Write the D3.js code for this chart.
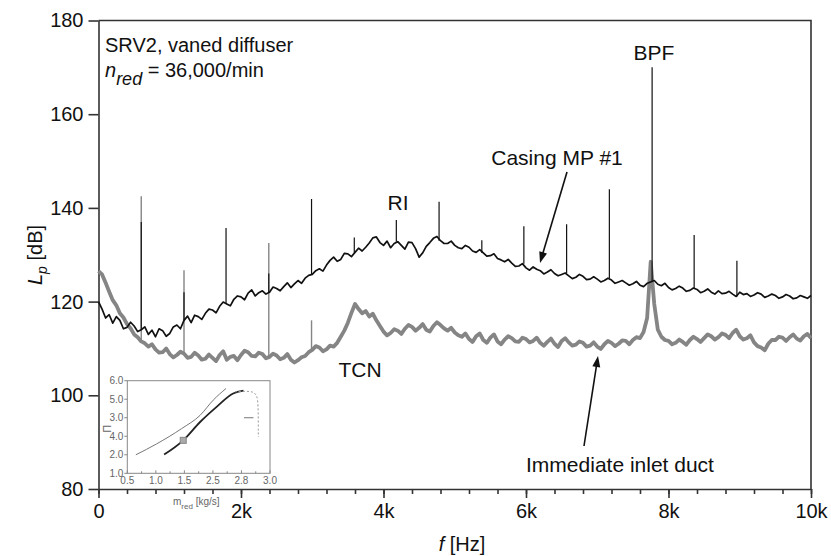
<!DOCTYPE html>
<html>
<head>
<meta charset="utf-8">
<script src="https://cdn.jsdelivr.net/npm/d3@7/dist/d3.min.js"></script>
<style>
  body { margin: 0; background: #fff; }
  svg { font-family: "Liberation Sans", Arial, sans-serif; }
</style>
</head>
<body>
<svg id="chart" width="831" height="556"></svg>
<script>
// spectra, one value every 50 Hz (f in kHz), level in dB
const freqStep = 0.05;
const casingLevels = [
  120, 118.4, 116.5, 117.2, 115.4, 116.8, 116, 114.2, 114.5, 115.6, 114.8, 113.6, 114, 114.6, 113, 113.9, 112.5, 114.2, 113.8, 112.6,
  113.2, 114.6, 115, 114.2, 116, 116.9, 115.5, 117.1, 116.8, 116.2, 117.5, 118.4, 118.2, 117.6, 119, 119.9, 119.5, 119.1, 120.5, 121.2,
  121, 120.4, 121.8, 122.5, 121.2, 121.9, 122.3, 121.6, 122, 123.1, 122.8, 122.3, 123.2, 124, 123, 123.8, 124.5, 123.9, 125, 125.6,
  125.8, 126.6, 127, 126.5, 127.8, 128.8, 129.5, 128.6, 129, 130.3, 130.2, 129.6, 130.5, 131.4, 130.8, 131.6, 132.5, 133.6, 133.8, 132.6,
  132, 132.9, 131.5, 132.4, 132.8, 132, 131.2, 132.7, 132.6, 131.3, 129.5, 130.4, 131.8, 132.6, 133.5, 133.9, 133, 132.4, 132.4, 132.9,
  132, 131.5, 131.3, 132, 131.6, 130.8, 130.5, 131.1, 130.4, 129.7, 129.8, 130.2, 129.2, 128.9, 128.5, 129, 128.2, 127.5, 127.6, 128.1,
  127.2, 126.7, 127.4, 126.9, 126.6, 125.9, 126.3, 126.8, 126, 125.5, 125.8, 126.1, 125.5, 124.9, 125.2, 125.8, 125.4, 124.7, 124.8, 125.3,
  124.8, 124.2, 124.5, 125, 124.6, 123.9, 124.2, 124.5, 124, 123.5, 123.8, 124.3, 123.5, 123.2, 123.9, 124.2, 124.5, 123.7, 123.4, 123.9,
  123, 122.5, 122.8, 123.3, 122.9, 122.2, 122.4, 122.9, 122.6, 121.9, 122.2, 122.7, 122, 121.6, 122.3, 121.7, 121.8, 122.2, 121.6, 121.1,
  122, 121.5, 121.7, 121.1, 121.4, 121.9, 121.6, 120.9, 121.2, 121.6, 121.3, 120.7, 121, 121.5, 121.2, 120.6, 120.8, 121.3, 121, 120.7,
  121.3
];
const inletLevels = [
  126.5, 125.8, 124, 122.1, 120.3, 119.2, 117.5, 116.6, 115.2, 114.3, 113, 112.4, 111.5, 111.1, 110.4, 110.9, 109.8, 109.1, 109.2, 110,
  108.8, 108.1, 108.6, 109.3, 108.9, 108, 108.2, 109.1, 108.5, 107.6, 107.8, 108.7, 108, 107.3, 108.6, 109.4, 107.6, 108.2, 108.4, 107.5,
  108.6, 109.5, 109.2, 108.4, 108.3, 109.1, 108.8, 107.9, 108.2, 108.9, 108.5, 107.7, 108, 108.8, 107.6, 107, 107.5, 108.1, 108.4, 109.2,
  109.7, 110.5, 110.2, 109.4, 109.8, 110.6, 110.4, 111.2, 112.5, 113.8, 115.5, 117.6, 119.5, 118.4, 117.5, 118, 116.8, 117.4, 116, 114.8,
  113.6, 112.8, 113.3, 114.1, 113.8, 113.1, 114.2, 115, 114.6, 113.8, 114.4, 115.2, 114, 113.6, 114.8, 115.6, 115, 114.3, 113.8, 114.4,
  113.4, 112.8, 112.5, 113.2, 112, 111.4, 112.6, 113.2, 111.8, 111.2, 112.3, 113, 111.5, 110.9, 111.9, 112.6, 112.2, 111.5, 111.4, 112.3,
  112, 111.3, 111.6, 112.3, 111.2, 110.6, 111.4, 112.1, 111, 110.3, 111.6, 112.2, 111.3, 110.6, 110.8, 111.5, 111.2, 110.4, 110.6, 111.3,
  110.4, 109.9, 110.9, 111.6, 111.2, 110.5, 111, 111.7, 111.6, 110.9, 111.8, 112.4, 112.2, 113.5, 116.5, 128.5, 119.5, 114, 112.5, 111.8,
  111.6, 110.9, 111.2, 111.9, 111.4, 110.8, 111.8, 112.5, 112, 111.4, 112.2, 113, 112.6, 111.9, 112.4, 113.2, 112.9, 112.2, 113.3, 114,
  112.6, 111.9, 112.2, 112.8, 111.3, 110.5, 110.2, 109.6, 111, 111.8, 111.8, 112.5, 112.3, 111.6, 112.4, 113, 112.1, 111.7, 112.6, 113.1,
  112.2
];
// shaft-order tones [f kHz, peak dB]
const casingTones = [
  [0.6, 137], [1.2, 122], [1.79, 135.7], [2.39, 126], [2.99, 141.9],
  [3.59, 133.7], [4.18, 137.4], [4.78, 141.3], [5.38, 133.1], [5.97, 136.1],
  [6.57, 136.5], [7.17, 144], [7.77, 170], [8.36, 134.2], [8.96, 128.7]
];
const inletTones = [[0.6, 142.5], [1.2, 126.7], [2.39, 132.5], [2.99, 116]];

const yTicks = [80, 100, 120, 140, 160, 180];
const xTicks = [0, 2, 4, 6, 8, 10];
const xTickLabels = ["0", "2k", "4k", "6k", "8k", "10k"];

// inset compressor map, in label-index units as printed
const insetXLabels = ["0.5", "1.0", "1.5", "2.5", "2.8", "3.0"];
const insetYLabels = ["1.0", "2.0", "4.0", "3.0", "5.0", "6.0"];
const mapUpperLine = [[0.30, 1.0], [1.03, 1.59], [1.90, 2.41], [2.55, 3.13], [3.01, 3.95], [3.46, 4.58]];
const mapLowerLine = [[1.29, 1.01], [1.96, 1.78], [2.55, 2.77], [3.13, 3.59], [3.71, 4.31], [4.07, 4.46]];
const mapDashed = [[3.77, 4.40], [4.18, 4.44], [4.42, 4.40], [4.53, 4.22], [4.59, 3.86], [4.59, 1.96]];
const mapTick = [[4.09, 3.0], [4.42, 3.0]];
const mapPoint = [1.96, 1.78];

const svg = d3.select("#chart");
const x = d3.scaleLinear().domain([0, 10]).range([98.5, 811]);
const y = d3.scaleLinear().domain([80, 180]).range([489, 20.5]);

// frame
svg.append("path")
  .attr("d", `M${x(0)},${y(180)}H${x(10)}V${y(80)}`)
  .attr("fill", "none").attr("stroke", "#333").attr("stroke-width", 1.6);

// axes
svg.append("g").attr("transform", `translate(${x(0)},0)`)
  .call(d3.axisLeft(y).tickValues(yTicks).tickSize(10).tickSizeOuter(0).tickPadding(5));
svg.append("g").attr("transform", `translate(0,${y(80)})`)
  .call(d3.axisBottom(x).tickValues(xTicks).tickSize(9).tickSizeOuter(0).tickPadding(6)
    .tickFormat((d, i) => xTickLabels[i]));
svg.append("g").attr("transform", `translate(0,${y(80)})`)
  .call(d3.axisBottom(x).tickValues(d3.range(0, 10.001, 0.4)).tickSize(5).tickFormat(""))
  .call(g => g.select(".domain").remove());
svg.selectAll(".domain, .tick line").attr("stroke", "#333").attr("stroke-width", 1.6);
svg.selectAll(".tick text").attr("fill", "#111").attr("font-size", 20);

const line = d3.line().x((d, i) => x(i * freqStep)).y(d => y(d));
const baseAt = (levels, f) => levels[Math.round(f / freqStep)];

function drawSpectrum(levels, tones, color, width, toneWidth) {
  const g = svg.append("g");
  g.append("path").datum(levels).attr("d", line)
    .attr("fill", "none").attr("stroke", color)
    .attr("stroke-width", width).attr("stroke-linejoin", "round");
  g.selectAll("line").data(tones).join("line")
    .attr("x1", d => x(d[0])).attr("x2", d => x(d[0]))
    .attr("y1", d => y(baseAt(levels, d[0]))).attr("y2", d => y(d[1]))
    .attr("stroke", color).attr("stroke-width", toneWidth);
}
drawSpectrum(inletLevels, inletTones, "#858585", 3.8, 1.4);
drawSpectrum(casingLevels, casingTones, "#111", 1.7, 1.2);

// axis titles
svg.append("text").attr("transform", "translate(42,255) rotate(-90)")
  .attr("text-anchor", "middle").attr("font-size", 20).attr("fill", "#111")
  .call(t => {
    t.append("tspan").attr("font-style", "italic").text("L");
    t.append("tspan").attr("font-style", "italic").attr("font-size", 14).attr("dy", 5).text("p");
    t.append("tspan").attr("dy", -5).text(" [dB]");
  });
svg.append("text").attr("x", 462).attr("y", 551)
  .attr("text-anchor", "middle").attr("font-size", 20).attr("fill", "#111")
  .call(t => {
    t.append("tspan").attr("font-style", "italic").text("f");
    t.append("tspan").text(" [Hz]");
  });

// annotations
const note = (tx, ty, s, anchor) => svg.append("text").attr("x", tx).attr("y", ty)
  .attr("font-size", 21).attr("fill", "#111").attr("text-anchor", anchor || "start").text(s);
note(105, 52, "SRV2, vaned diffuser").attr("font-size", 20);
svg.append("text").attr("x", 105).attr("y", 77).attr("font-size", 20).attr("fill", "#111")
  .call(t => {
    t.append("tspan").attr("font-style", "italic").text("n");
    t.append("tspan").attr("font-style", "italic").attr("font-size", 18).attr("dy", 8).text("red");
    t.append("tspan").attr("dy", -8).text(" = 36,000/min");
  });
note(654, 60, "BPF", "middle");
note(557, 165, "Casing MP #1", "middle");
note(398, 210, "RI", "middle");
note(360, 377, "TCN", "middle");
note(620, 472, "Immediate inlet duct", "middle");

function arrow(x1, y1, x2, y2) {
  const a = Math.atan2(y2 - y1, x2 - x1), len = 11, w = 4;
  svg.append("line").attr("x1", x1).attr("y1", y1)
    .attr("x2", x2 - Math.cos(a) * len * 0.8).attr("y2", y2 - Math.sin(a) * len * 0.8)
    .attr("stroke", "#111").attr("stroke-width", 1.6);
  const bx = x2 - Math.cos(a) * len, by = y2 - Math.sin(a) * len;
  svg.append("polygon").attr("fill", "#111").attr("points", [
    [x2, y2],
    [bx + Math.sin(a) * w, by - Math.cos(a) * w],
    [bx - Math.sin(a) * w, by + Math.cos(a) * w]
  ].map(p => p.join(",")).join(" "));
}
arrow(567, 172, 540, 263);
arrow(584, 446, 598, 356);

// inset compressor map
const ix = d3.scaleLinear().domain([0, 5]).range([127.3, 270]);
const iy = d3.scaleLinear().domain([0, 5]).range([473.3, 380.7]);
const inset = svg.append("g");
inset.append("rect").attr("x", ix(0)).attr("y", iy(5))
  .attr("width", ix(5) - ix(0)).attr("height", iy(0) - iy(5))
  .attr("fill", "#fff").attr("stroke", "#888").attr("stroke-width", 1);
inset.selectAll(".iyl").data(insetYLabels).join("text")
  .attr("x", ix(0) - 4).attr("y", (d, i) => iy(i) + 3.5)
  .attr("text-anchor", "end").attr("font-size", 10).attr("fill", "#666").text(d => d);
inset.selectAll(".iyt").data(insetYLabels).join("line")
  .attr("x1", ix(0) - 3).attr("x2", ix(0)).attr("y1", (d, i) => iy(i)).attr("y2", (d, i) => iy(i))
  .attr("stroke", "#888");
inset.selectAll(".ixl").data(insetXLabels).join("text")
  .attr("x", (d, i) => ix(i)).attr("y", iy(0) + 11)
  .attr("text-anchor", "middle").attr("font-size", 10).attr("fill", "#666").text(d => d);
inset.selectAll(".ixt").data(d3.range(0, 5.001, 0.5)).join("line")
  .attr("x1", d => ix(d)).attr("x2", d => ix(d)).attr("y1", iy(0)).attr("y2", d => iy(0) - (d % 1 === 0 ? 3 : 2))
  .attr("stroke", "#888");
const iline = d3.line().x(d => ix(d[0])).y(d => iy(d[1])).curve(d3.curveMonotoneX);
inset.append("path").datum(mapUpperLine).attr("d", iline)
  .attr("fill", "none").attr("stroke", "#777").attr("stroke-width", 1);
inset.append("path").datum(mapLowerLine).attr("d", iline)
  .attr("fill", "none").attr("stroke", "#222").attr("stroke-width", 1.8);
inset.append("path").datum(mapDashed).attr("d", d3.line().x(d => ix(d[0])).y(d => iy(d[1])).curve(d3.curveBasis))
  .attr("fill", "none").attr("stroke", "#999").attr("stroke-width", 1).attr("stroke-dasharray", "2,2");
inset.append("path").datum(mapTick).attr("d", d3.line().x(d => ix(d[0])).y(d => iy(d[1])))
  .attr("stroke", "#777").attr("stroke-width", 1);
inset.append("rect").attr("x", ix(mapPoint[0]) - 3).attr("y", iy(mapPoint[1]) - 3)
  .attr("width", 6).attr("height", 6).attr("fill", "#aaa").attr("stroke", "#888");
inset.append("text").attr("transform", `translate(111,${iy(2.4)}) rotate(-90)`)
  .attr("text-anchor", "middle").attr("font-size", 11).attr("fill", "#666").text("Π");
inset.append("text").attr("x", 173).attr("y", 505).attr("font-size", 10).attr("fill", "#666")
  .call(t => {
    t.append("tspan").text("m");
    t.append("tspan").attr("font-size", 8).attr("dy", 4).text("red");
    t.append("tspan").attr("dy", -4).text(" [kg/s]");
  });
</script>
</body>
</html>
